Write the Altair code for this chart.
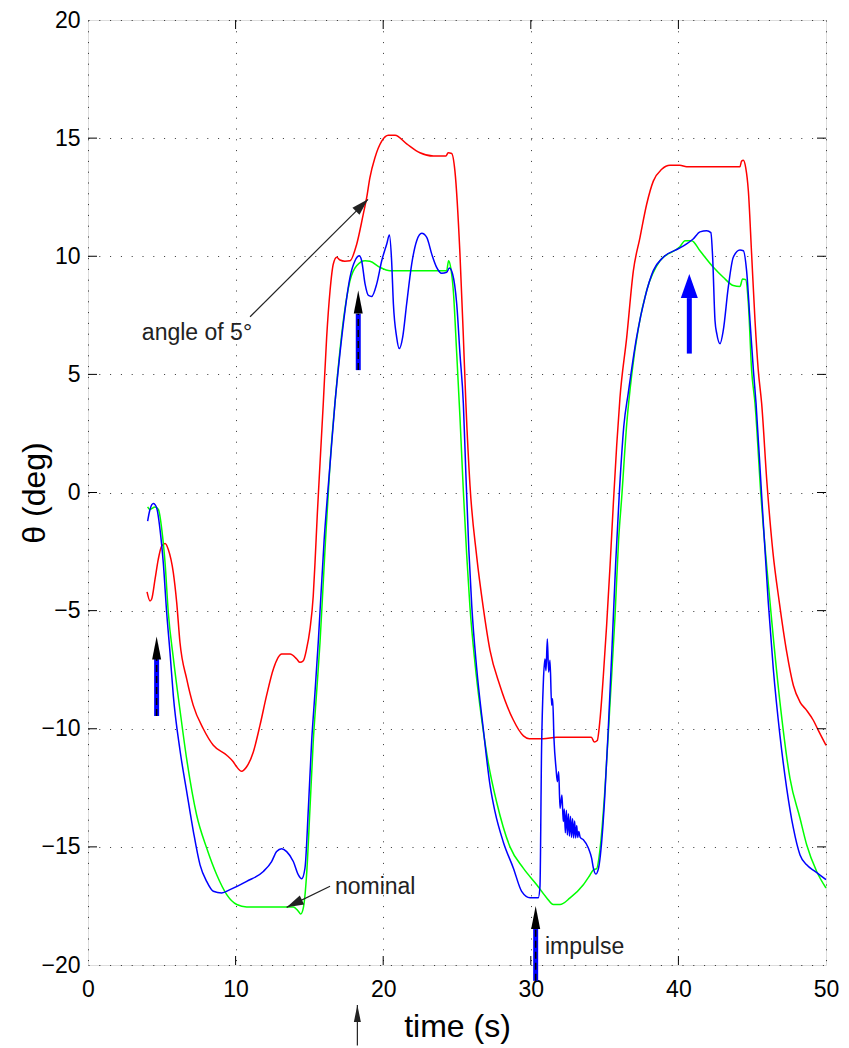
import math
import altair as alt
import pandas as pd

# ---------------- data ----------------
red_t = [4.0, 4.2, 4.31, 4.54, 4.76, 4.99, 5.22, 5.44, 5.78, 6.01, 6.23, 6.69, 7.13, 7.81, 8.49, 9.4,
         9.84, 10.07, 10.41, 10.75, 11.2, 11.65, 12.1, 12.56, 13.12, 13.69, 14.14, 14.36, 14.59, 14.81,
         15.04, 15.26, 15.38, 15.54, 15.72, 15.94, 16.17, 16.4, 16.62, 16.85, 17.07, 17.4, 17.75, 18.2,
         18.65, 18.88, 19.1, 19.44, 19.9, 20.35, 20.8, 21.59, 22.49, 23.4, 24.25, 24.4, 24.64, 24.86,
         25.2, 25.43, 25.6, 25.88, 26.33, 26.78, 27.24, 27.9, 28.8, 29.5, 29.9, 30.85, 31.76, 34.1,
         34.3, 34.5, 34.69, 34.91, 35.14, 35.37, 35.59, 35.82, 36.04, 36.5, 36.95, 37.4, 37.85, 38.3,
         38.87, 39.43, 40.1, 40.56, 44.17, 44.28, 44.4, 44.56, 44.74, 44.96, 45.19, 45.41, 45.64, 46.0,
         46.4, 46.84, 47.34, 47.79, 48.24, 48.69, 49.14, 49.48, 50.0]
red_theta = [-4.21, -4.59, -4.52, -3.68, -2.83, -2.27, -2.16, -2.41, -3.39, -4.66, -6.34, -7.9, -9.01,
             -10.0, -10.7, -11.12, -11.4, -11.61, -11.8, -11.61, -10.98, -9.86, -8.59, -7.47, -6.84,
             -6.84, -7.05, -7.19, -7.12, -6.62, -5.78, -4.38, -2.97, -0.87, 1.24, 3.77, 6.58, 8.55, 9.67,
             9.96, 9.84, 9.79, 9.81, 10.5, 11.78, 12.48, 13.33, 14.17, 14.87, 15.12, 15.12, 14.76, 14.38,
             14.24, 14.24, 14.38, 14.35, 13.6, 10.1, 6.6, 3.8, 0.3, -2.68, -4.87, -6.69, -8.16, -9.61,
             -10.3, -10.42, -10.42, -10.36, -10.36, -10.56, -10.5, -9.6, -7.8, -5.6, -3.1, -0.5, 2.0, 4.0,
             6.58, 9.39, 10.8, 12.2, 13.18, 13.68, 13.85, 13.85, 13.79, 13.79, 14.03, 14.06, 13.75, 12.76,
             10.1, 7.28, 5.18, 3.77, 0.4, -2.5, -4.66, -6.76, -8.17, -8.87, -9.22, -9.64, -10.07, -10.7]

blue_t = [4.04, 4.2, 4.43, 4.65, 4.88, 5.1, 5.33, 5.56, 5.78, 6.23, 6.69, 7.14, 7.59, 8.04, 8.49, 9.06,
          9.62, 10.75, 11.88, 12.44, 12.78, 13.12, 13.46, 13.91, 14.25, 14.48, 14.7, 14.93, 15.15, 15.38,
          15.6, 16.0, 16.4, 16.73, 17.07, 17.41, 17.75, 18.09, 18.38, 18.54, 18.77, 19.0, 19.22, 19.56,
          19.9, 20.24, 20.42, 20.57, 20.69, 20.91, 21.09, 21.32, 21.59, 21.93, 22.27, 22.61, 22.95,
          23.29, 23.62, 23.96, 24.3, 24.48, 24.7, 24.98, 25.2, 25.43, 25.6, 25.8, 26.0, 26.33, 26.78,
          27.24, 27.57, 28.14, 28.82, 29.38, 29.95, 30.51, 30.62, 30.73, 30.85, 30.96, 31.03, 31.12,
          31.21, 31.3, 31.41, 31.48, 31.57, 31.71, 31.8, 31.89, 31.98, 32.11, 32.2, 32.27, 32.34, 32.41,
          32.48, 32.55, 32.62, 32.69, 32.76, 32.83, 32.9, 32.97, 33.04, 33.11, 33.18, 33.25, 33.35,
          33.56, 33.9, 34.12, 34.24, 34.4, 34.57, 34.8, 35.0, 35.25, 35.5, 35.75, 36.0, 36.3, 36.6,
          37.17, 37.74, 38.3, 38.98, 40.1, 41.0, 41.46, 41.92, 42.2, 42.32, 42.48, 42.6, 42.82, 43.04,
          43.38, 43.72, 44.17, 44.4, 44.62, 44.85, 45.08, 45.26, 45.6, 46.09, 46.43, 46.88, 47.34,
          47.79, 48.24, 48.69, 49.26, 50.0]
blue_theta = [-1.21, -0.72, -0.47, -0.65, -1.57, -2.97, -5.08, -6.8, -8.6, -10.9, -12.67, -14.35, -15.76,
              -16.46, -16.88, -16.95, -16.81, -16.46, -16.04, -15.62, -15.2, -15.08, -15.2, -15.62, -16.18,
              -16.35, -15.9, -13.37, -10.56, -8.45, -6.34, -2.0, 1.2, 3.77, 5.88, 7.7, 9.11, 9.81, 10.02,
              9.81, 8.83, 8.34, 8.3, 8.83, 9.81, 10.52, 10.9, 9.81, 7.99, 6.58, 6.09, 6.58, 7.99, 9.67,
              10.66, 10.97, 10.8, 10.09, 9.53, 9.28, 9.32, 9.5, 9.25, 7.99, 5.88, 3.77, 0.8, -2.4, -4.8,
              -7.42, -10.0, -12.4, -13.5, -14.8, -15.9, -16.88, -17.15, -17.15, -16.7, -10.84, -8.03,
              -7.05, -7.54, -6.2, -7.6, -7.1, -9.0, -8.73, -10.42, -11.68, -12.24, -11.82, -13.37, -12.8,
              -13.93, -13.4, -14.4, -13.45, -14.5, -13.6, -14.55, -13.7, -14.6, -13.8, -14.62, -13.9,
              -14.62, -14.1, -14.6, -14.35, -14.6, -14.7, -15.05, -15.48, -15.9, -16.15, -15.95, -14.8,
              -13.0, -10.0, -6.6, -3.0, 0.0, 2.8, 4.2, 6.58, 8.27, 9.39, 9.96, 10.35, 10.73, 11.03, 11.08,
              11.0, 9.96, 7.28, 6.72, 6.3, 6.86, 8.69, 9.96, 10.26, 10.23, 9.39, 7.28, 5.18, 3.77, 0.3,
              -4.66, -7.47, -10.28, -12.53, -14.21, -15.34, -15.76, -16.04, -16.39]

green_t = [4.04, 4.2, 4.54, 4.77, 5.0, 5.22, 5.44, 5.78, 6.23, 6.69, 7.36, 8.04, 8.72, 9.4, 10.08, 10.75,
           13.46, 13.91, 14.25, 14.41, 14.59, 14.81, 15.04, 15.26, 15.49, 15.72, 16.05, 16.4, 16.73,
           17.3, 17.75, 18.2, 18.77, 19.1, 19.78, 20.46, 21.14, 24.3, 24.43, 24.57, 24.75, 24.98, 25.2,
           25.43, 25.66, 25.88, 26.22, 26.56, 27.12, 27.68, 28.59, 29.49, 30.4, 31.08, 31.53, 31.98,
           32.66, 33.56, 34.0, 34.24, 34.46, 34.69, 35.03, 35.37, 35.7, 35.95, 36.16, 36.5, 36.84, 37.3,
           37.85, 38.75, 40.1, 40.45, 40.9, 41.46, 42.37, 43.04, 43.72, 44.17, 44.35, 44.56, 44.74,
           44.96, 45.19, 45.6, 46.21, 46.88, 47.56, 48.24, 48.69, 49.37, 50.0]
green_theta = [-0.61, -0.72, -0.61, -0.72, -1.57, -2.97, -5.08, -7.0, -9.2, -11.3, -13.65, -15.05,
               -16.18, -17.02, -17.44, -17.54, -17.54, -17.54, -17.72, -17.84, -17.58, -16.18, -13.37,
               -10.56, -8.45, -6.34, -2.5, 1.24, 3.77, 7.28, 8.97, 9.6, 9.81, 9.79, 9.53, 9.39, 9.39, 9.39,
               9.81, 9.53, 8.55, 5.88, 3.2, 0.06, -2.68, -4.87, -7.23, -9.06, -11.44, -13.09, -15.0, -15.9,
               -16.6, -17.16, -17.44, -17.44, -17.16, -16.6, -16.2, -15.97, -15.92, -15.1, -12.5, -8.9,
               -5.3, -2.0, -0.2, 2.9, 5.0, 7.0, 8.55, 9.81, 10.4, 10.66, 10.66, 10.23, 9.53, 9.11, 8.76,
               8.72, 9.04, 9.01, 7.99, 5.18, 3.77, -0.2, -4.66, -8.87, -12.1, -13.79, -14.91, -16.04, -16.74]

# annotations
big_arrow_t = [4.65, 18.31, 30.33, 40.74]
big_arrow_tail = [-9.46, 5.18, -20.67, 5.88]
big_arrow_shaft_top = [-7.05, 7.57, -18.43, 8.23]
big_arrow_tip = [-6.1, 8.55, -17.5, 9.25]
big_arrow_head = ["black", "black", "black", "blue"]

thin_arrow_t1 = [10.98, 16.4, 18.25]
thin_arrow_th1 = [7.44, -16.67, -23.41]
thin_arrow_t2 = [18.97, 13.46, 18.25]
thin_arrow_th2 = [12.41, -17.56, -21.69]
thin_arrow_kind = ["big", "big", "small"]

label_text = ["angle of 5°", "nominal", "impulse"]
label_t = [3.65, 16.73, 30.96]
label_theta = [6.44, -16.99, -19.52]

x_ticks = [0, 10, 20, 30, 40, 50]
y_ticks = [-20, -15, -10, -5, 0, 5, 10, 15, 20]

# ---------------- layout / style ----------------
W, H = 738, 945
XD, YD = [0, 50], [-20, 20]
PX_X = W / (XD[1] - XD[0])
PX_Y = H / (YD[1] - YD[0])
FONT = "Liberation Sans"
TICK = 9

xs = alt.Scale(domain=XD, nice=False, zero=False)
ys = alt.Scale(domain=YD, nice=False, zero=False)

xaxis = alt.Axis(values=x_ticks, title="time (s)", grid=True, ticks=False, tickSize=0, domain=False,
                 labelFlush=False, labelFontSize=23, labelFont=FONT, labelColor="black",
                 labelPadding=31, labelBaseline="alphabetic", titleFontSize=32, titleFont=FONT,
                 titleFontWeight="normal", titleColor="black", titleY=71, titleBaseline="alphabetic",
                 gridDash=[1, 9.8], gridColor="#000", gridWidth=1, gridOpacity=0.8, format="d")
yaxis = alt.Axis(values=y_ticks, title="θ (deg)", grid=True, ticks=False, tickSize=0, domain=False,
                 labelFlush=False, labelFontSize=23, labelFont=FONT, labelColor="black",
                 labelPadding=8, titleFontSize=32, titleFont=FONT, titleFontWeight="normal",
                 titleColor="black", titleX=-44, titleBaseline="alphabetic",
                 gridDash=[1, 9.8], gridColor="#000", gridWidth=1, gridOpacity=0.8, format="d")

X = alt.X("t:Q", scale=xs, axis=xaxis)
Y = alt.Y("theta:Q", scale=ys, axis=yaxis)


def line(t, th, color):
    df = pd.DataFrame({"t": t, "theta": th})
    return alt.Chart(df).mark_line(color=color, strokeWidth=1.5, interpolate="monotone").encode(
        x=X, y=Y, order="t:Q")


layers = [line(red_t, red_theta, "#ff0000"),
          line(green_t, green_theta, "#00ff00"),
          line(blue_t, blue_theta, "#0000ff")]

# inward ticks on the box
xt = pd.DataFrame({"t": x_ticks[1:-1]})
yt = pd.DataFrame({"theta": y_ticks[1:-1]})
for y0, y1 in [(H, H - TICK), (0, TICK)]:
    layers.append(alt.Chart(xt).mark_rule(color="black", strokeWidth=1).encode(
        x=X, y=alt.value(y0), y2=alt.value(y1)))
for x0, x1 in [(0, TICK), (W - TICK, W)]:
    layers.append(alt.Chart(yt).mark_rule(color="black", strokeWidth=1).encode(
        y=Y, x=alt.value(x0), x2=alt.value(x1)))

# big blue arrows
ba = pd.DataFrame({"t": big_arrow_t, "theta": big_arrow_tail, "top": big_arrow_shaft_top,
                   "tip": big_arrow_tip, "head": big_arrow_head})
layers.append(alt.Chart(ba).mark_rule(color="#0000ff", strokeWidth=5, strokeCap="butt").encode(
    x=X, y=Y, y2="top:Q"))
layers.append(alt.Chart(ba[ba["head"] == "black"]).mark_rule(
    color="black", strokeWidth=1.5, strokeDash=[7, 4]).encode(x=X, y=Y, y2="top:Q"))
layers.append(alt.Chart(ba[ba["head"] == "black"]).mark_point(
    shape="M0,0L-4.5,23L4.5,23Z", size=4, filled=True, opacity=1, color="black", strokeWidth=0).encode(
    x=X, y=alt.Y("tip:Q", scale=ys)))
layers.append(alt.Chart(ba[ba["head"] == "blue"]).mark_point(
    shape="M0,0L-8.5,24L8.5,24Z", size=4, filled=True, opacity=1, color="#0000ff", strokeWidth=0).encode(
    x=X, y=alt.Y("tip:Q", scale=ys)))

# thin black arrows
ta = pd.DataFrame({"t": thin_arrow_t1, "theta": thin_arrow_th1, "t2": thin_arrow_t2,
                   "theta2": thin_arrow_th2, "kind": thin_arrow_kind})
ta["ang"] = [math.degrees(math.atan2((b - a) * PX_X, (d - c) * PX_Y)) % 360
             for a, b, c, d in zip(ta["t"], ta["t2"], ta["theta"], ta["theta2"])]
layers.append(alt.Chart(ta).mark_rule(color="#222222", strokeWidth=1.2).encode(
    x=X, y=Y, x2="t2:Q", y2="theta2:Q"))
layers.append(alt.Chart(ta[ta["kind"] == "big"]).mark_point(
    shape="M0,0L-5,17L5,17Z", size=4, filled=True, opacity=1, color="#222222", strokeWidth=0).encode(
    x=alt.X("t2:Q", scale=xs), y=alt.Y("theta2:Q", scale=ys), angle=alt.Angle("ang:Q", scale=None)))
layers.append(alt.Chart(ta[ta["kind"] == "small"]).mark_point(
    shape="M0,0L-3.5,17L3.5,17Z", size=4, filled=True, opacity=1, color="#222222", strokeWidth=0).encode(
    x=alt.X("t2:Q", scale=xs), y=alt.Y("theta2:Q", scale=ys), angle=alt.Angle("ang:Q", scale=None)))

# labels
lab = pd.DataFrame({"t": label_t, "theta": label_theta, "txt": label_text})
layers.append(alt.Chart(lab).mark_text(align="left", baseline="alphabetic", fontSize=23, font=FONT,
                                       color="#222222").encode(x=X, y=Y, text="txt:N"))

chart = alt.layer(*layers).properties(
    width=W, height=H,
    autosize=alt.AutoSizeParams(type="none"),
    padding={"left": 80, "top": 12, "right": 15, "bottom": 81},
).configure_view(stroke="black", strokeWidth=1.2).configure(font=FONT)

chart.save("out.html", embed_options={"renderer": "svg", "actions": False})
